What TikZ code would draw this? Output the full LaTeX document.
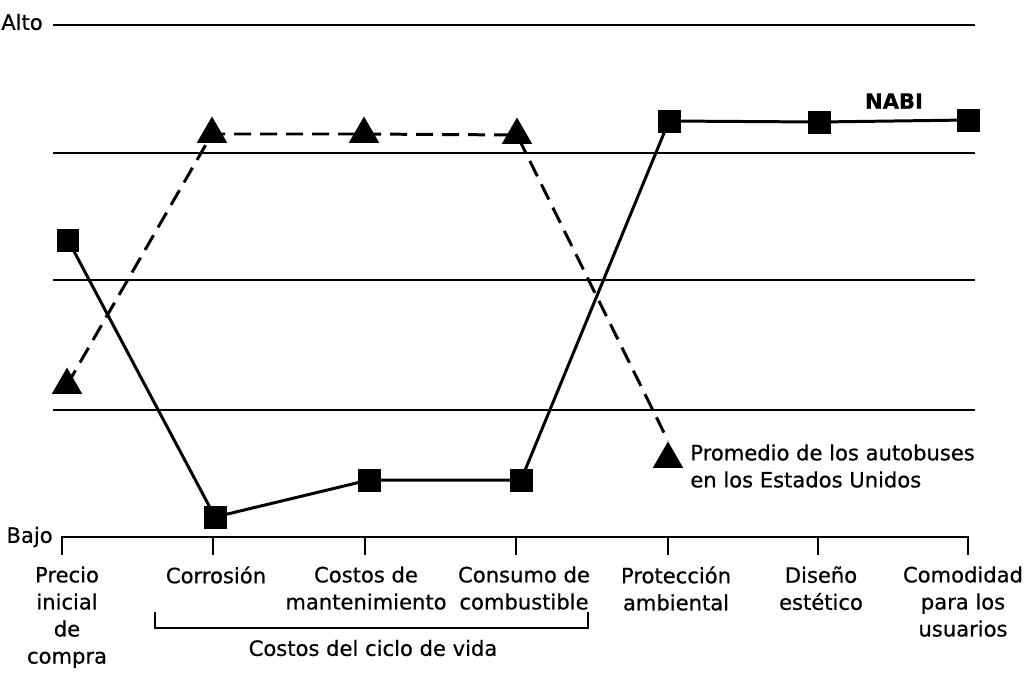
\documentclass[tikz,border=0pt]{standalone}
\usepackage{fontspec}
\setmainfont{DejaVu Sans}[FakeBold=0.6]
\usetikzlibrary{shapes.geometric}

\begin{document}
\begin{tikzpicture}[x=0.02cm, y=-0.02cm,
        nabi/.style={rectangle, fill=black, minimum size=0.46cm, inner sep=0},
        prom/.style={regular polygon, regular polygon sides=3, fill=black, minimum size=0.7cm, inner sep=0},
        level/.style={line width=1.1pt},
        txt/.style={inner sep=0, font=\fontsize{12}{15.4}\selectfont},
        cat/.style={txt, align=center, anchor=north}]
    \useasboundingbox (0,0) rectangle (1035,677);

    % Levels
    \node [txt] (alto) at (22,22) {Alto};
    \node [txt, anchor=east] (bajo) at (53,537) {Bajo};
    \foreach \y in {25,153,280,410}
        \draw [level] (53,\y) -- (975,\y);

    % Axis
    \draw [level] (62,555) -- (62,537) -- (968,537) -- (968,555);
    \foreach \x in {213,365,516,668,818}
        \draw [level] (\x,537) -- (\x,555);

    % Categories
    \node [cat] (precio) at (67,566) {Precio\\inicial\\de\\compra};
    \node [cat] (corrosion) at (216,566) {Corrosión};
    \node [cat] (mant) at (366,566) {Costos de\\mantenimiento};
    \node [cat] (consumo) at (524,566) {Consumo de\\combustible};
    \node [cat] (proteccion) at (676,566) {Protección\\ambiental};
    \node [cat] (diseno) at (821,566) {Diseño\\estético};
    \node [cat] (comodidad) at (963,566) {Comodidad\\para los\\usuarios};

    % Life cycle bracket
    \draw [level] (155,612) -- (155,628) -- (588,628) -- (588,612);
    \node [txt] (ciclo) at (373,648) {Costos del ciclo de vida};

    % NABI
    \node [nabi] (n1) at (68,240) {};
    \node [nabi] (n2) at (215,517) {};
    \node [nabi] (n3) at (369,480) {};
    \node [nabi] (n4) at (521,480) {};
    \node [nabi] (n5) at (669,121) {};
    \node [nabi] (n6) at (819,122) {};
    \node [nabi] (n7) at (968,120) {};
    \node [txt, font=\fontsize{12}{15.4}\selectfont\bfseries] (nabilbl) at (894,101) {NABI};

    % Average
    \node [prom] (p1) at (67,385) {};
    \node [prom] (p2) at (212,134) {};
    \node [prom] (p3) at (364,134) {};
    \node [prom] (p4) at (517,135) {};
    \node [prom] (p5) at (668,459) {};
    \node [txt, anchor=west, align=left] (leyenda) at (690,466) {Promedio de los autobuses\\en los Estados Unidos};

    % Lines
    \draw [line width=1.7pt] (n1.center) -- (n2.center) -- (n3.center) -- (n4.center) -- (n5.center) -- (n6.center) -- (n7.center);
    \draw [line width=1.7pt, dash pattern=on 0.34cm off 0.18cm] (p1.center) -- (p2.center) -- (p3.center) -- (p4.center) -- (p5.north);
\end{tikzpicture}
\end{document}
